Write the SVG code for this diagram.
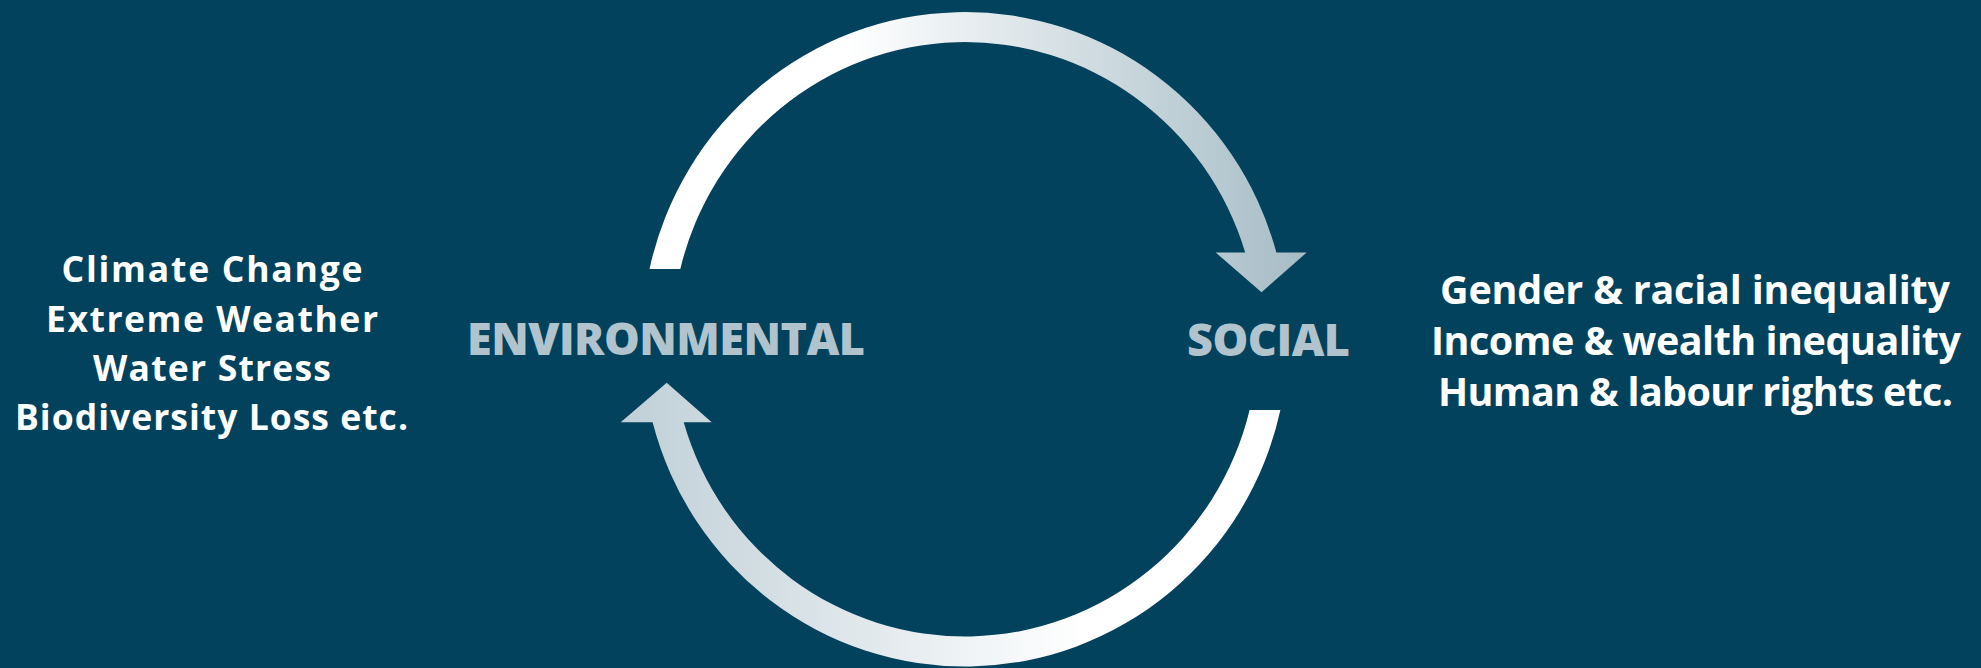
<svg xmlns="http://www.w3.org/2000/svg" width="1981" height="668" viewBox="0 0 1981 668">
<style>
.list{font-family:"Open Sans","Lato","Liberation Sans",sans-serif;font-weight:700;fill:#ffffff;text-anchor:middle}
.l1{font-size:35.5px}
.l2{font-size:39.5px}
.label{font-family:"Open Sans","Lato","Liberation Sans",sans-serif;font-weight:800;font-size:45px;fill:#b1c4cd;text-anchor:start}
</style>
<defs>
<linearGradient id="gTop" gradientUnits="userSpaceOnUse" x1="649" y1="0" x2="1307" y2="0">
<stop offset="0" stop-color="#ffffff"/>
<stop offset="0.3" stop-color="#ffffff"/>
<stop offset="1" stop-color="#a6bcc6"/>
</linearGradient>
<linearGradient id="gBot" gradientUnits="userSpaceOnUse" x1="620" y1="0" x2="1281" y2="0">
<stop offset="0" stop-color="#bfcfd7"/>
<stop offset="0.7" stop-color="#ffffff"/>
<stop offset="1" stop-color="#ffffff"/>
</linearGradient>
</defs>
<rect x="0" y="0" width="1981" height="668" fill="#02425c"/>
<g id="connectors">
<path id="arrow-env-to-social" fill="url(#gTop)" d="M 649.5 269 A 323 327.25 0 0 1 1276.4 252.5 L 1306.7 252.5 L 1261.5 292.3 L 1215.7 252.5 L 1245.2 252.5 A 293 297.25 0 0 0 680.3 269 Z"/>
<path id="arrow-social-to-env" fill="url(#gBot)" d="M 1280.4 410 A 323 327.25 0 0 1 652.6 422.3 L 620.7 422.3 L 666.7 382.7 L 711.7 422.3 L 683.7 422.3 A 293 297.25 0 0 0 1249.6 410 Z"/>
</g>
<g id="node-environmental">
<text class="label" x="467" y="355" textLength="398" lengthAdjust="spacing">ENVIRONMENTAL</text>
</g>
<g id="node-social">
<text class="label" x="1187" y="355.5" textLength="163" lengthAdjust="spacing">SOCIAL</text>
</g>
<g id="environmental-issues">
<text class="list l1" x="212" y="282" textLength="301" lengthAdjust="spacing">Climate Change</text>
<text class="list l1" x="212" y="332" textLength="332" lengthAdjust="spacing">Extreme Weather</text>
<text class="list l1" x="212" y="381" textLength="238" lengthAdjust="spacing">Water Stress</text>
<text class="list l1" x="211.5" y="430" textLength="393" lengthAdjust="spacing">Biodiversity Loss etc.</text>
</g>
<g id="social-issues">
<text class="list l2" x="1695" y="303.5" textLength="510" lengthAdjust="spacing">Gender &amp; racial inequality</text>
<text class="list l2" x="1696" y="354.5" textLength="530" lengthAdjust="spacing">Income &amp; wealth inequality</text>
<text class="list l2" x="1695.5" y="405.5" textLength="515" lengthAdjust="spacing">Human &amp; labour rights etc.</text>
</g>
</svg>
